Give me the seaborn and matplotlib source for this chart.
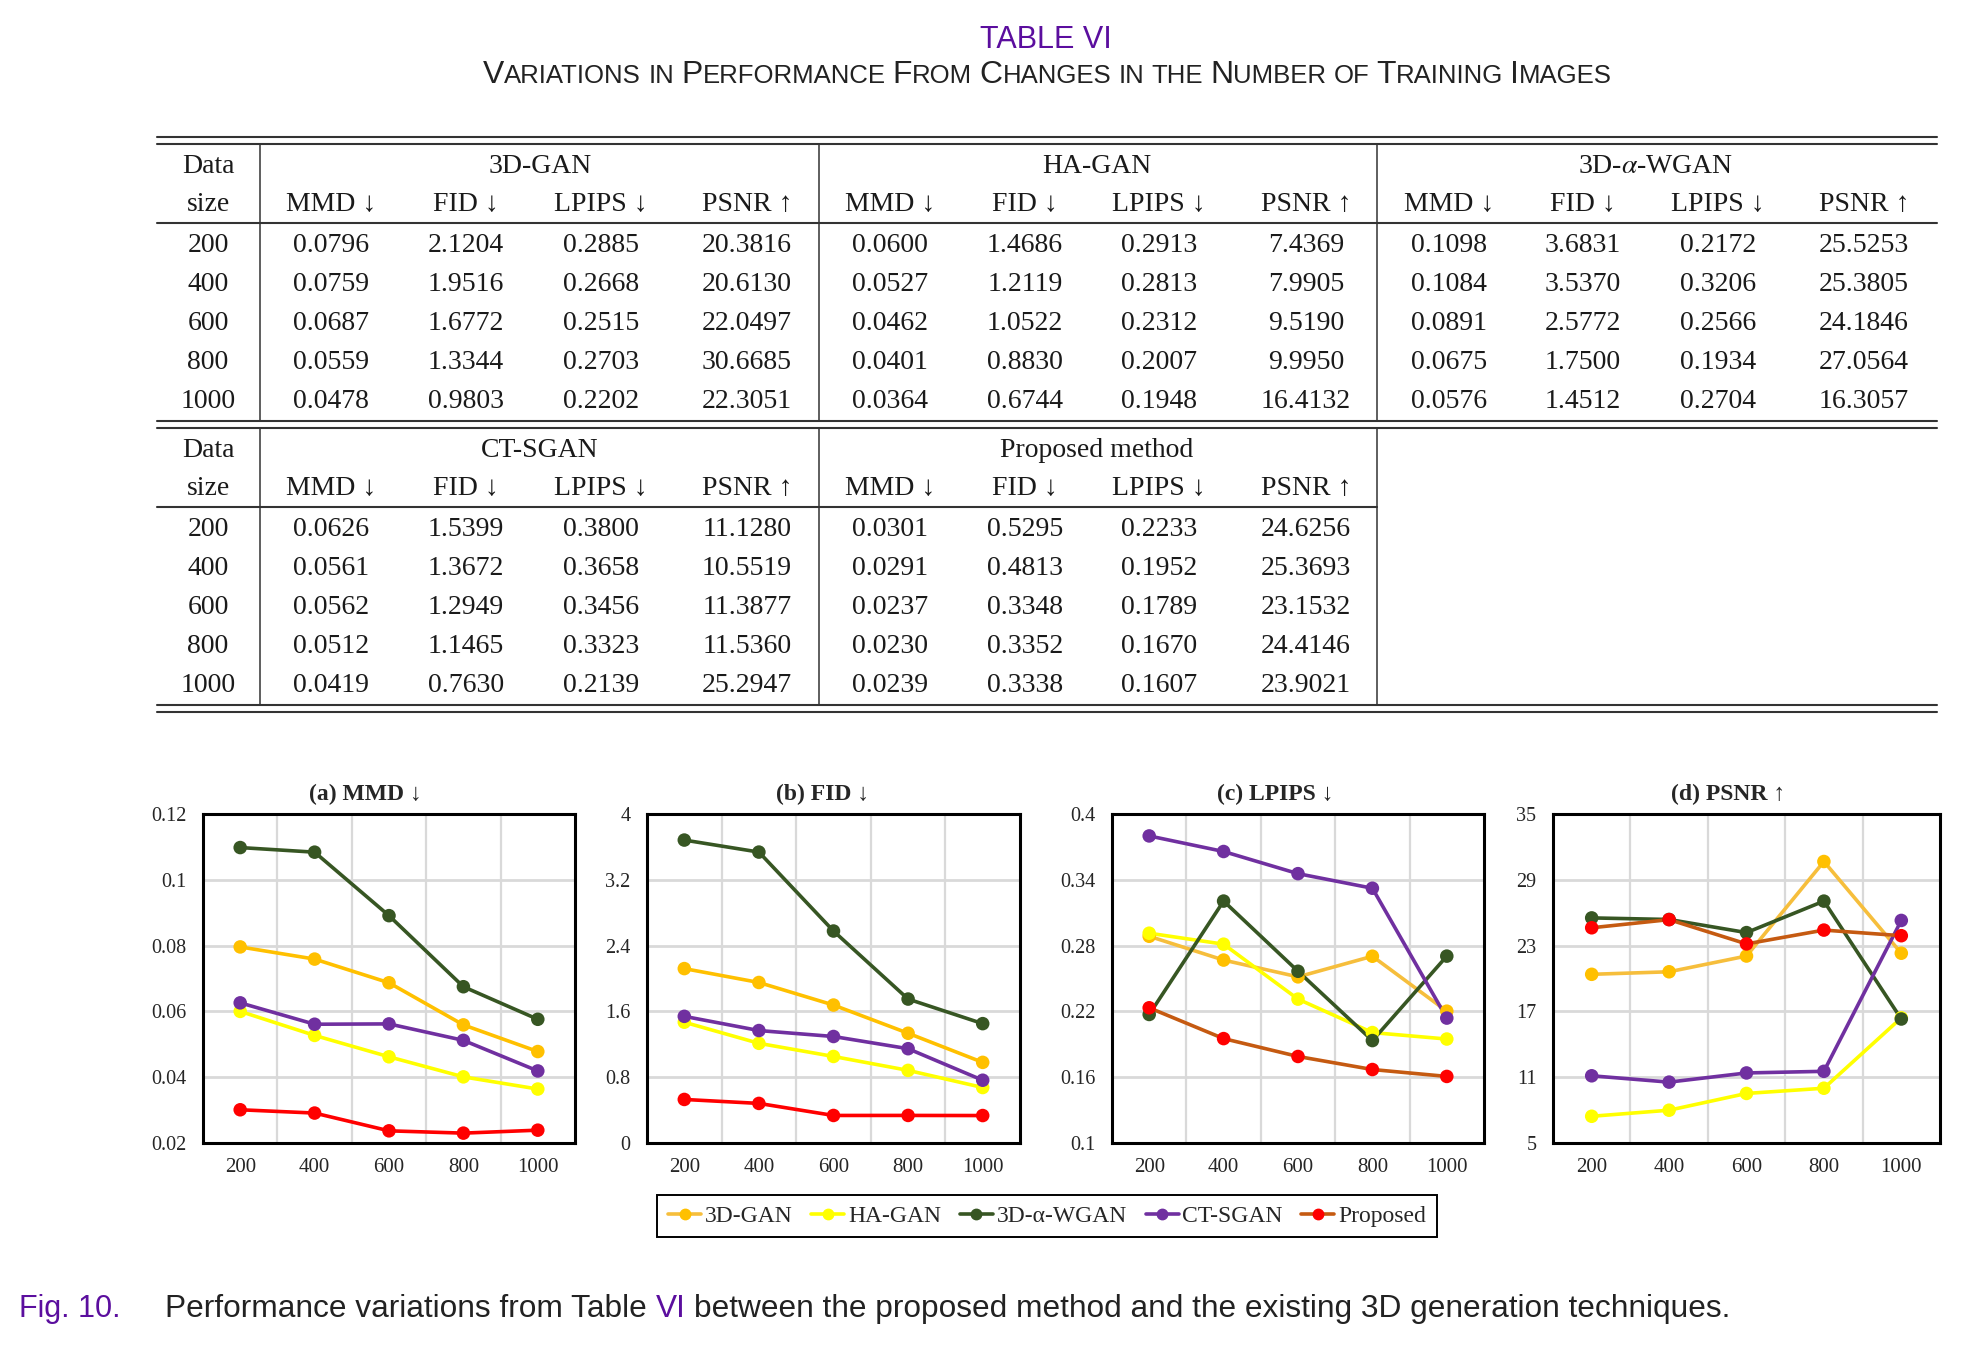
import matplotlib

matplotlib.use("Agg")

import matplotlib.pyplot as plt
import pandas as pd
import seaborn as sns
from matplotlib.lines import Line2D
from matplotlib.ticker import FixedLocator, FuncFormatter


SIZES = [200, 400, 600, 800, 1000]
METHODS = ["3D-GAN", "HA-GAN", "3D-α-WGAN", "CT-SGAN", "Proposed"]
METRICS = ["MMD", "FID", "LPIPS", "PSNR"]

GAN3D_MMD = [0.0796, 0.0759, 0.0687, 0.0559, 0.0478]
GAN3D_FID = [2.1204, 1.9516, 1.6772, 1.3344, 0.9803]
GAN3D_LPIPS = [0.2885, 0.2668, 0.2515, 0.2703, 0.2202]
GAN3D_PSNR = [20.3816, 20.6130, 22.0497, 30.6685, 22.3051]

HAGAN_MMD = [0.0600, 0.0527, 0.0462, 0.0401, 0.0364]
HAGAN_FID = [1.4686, 1.2119, 1.0522, 0.8830, 0.6744]
HAGAN_LPIPS = [0.2913, 0.2813, 0.2312, 0.2007, 0.1948]
HAGAN_PSNR = [7.4369, 7.9905, 9.5190, 9.9950, 16.4132]

WGAN_MMD = [0.1098, 0.1084, 0.0891, 0.0675, 0.0576]
WGAN_FID = [3.6831, 3.5370, 2.5772, 1.7500, 1.4512]
WGAN_LPIPS = [0.2172, 0.3206, 0.2566, 0.1934, 0.2704]
WGAN_PSNR = [25.5253, 25.3805, 24.1846, 27.0564, 16.3057]

CTSGAN_MMD = [0.0626, 0.0561, 0.0562, 0.0512, 0.0419]
CTSGAN_FID = [1.5399, 1.3672, 1.2949, 1.1465, 0.7630]
CTSGAN_LPIPS = [0.3800, 0.3658, 0.3456, 0.3323, 0.2139]
CTSGAN_PSNR = [11.1280, 10.5519, 11.3877, 11.5360, 25.2947]

PROP_MMD = [0.0301, 0.0291, 0.0237, 0.0230, 0.0239]
PROP_FID = [0.5295, 0.4813, 0.3348, 0.3352, 0.3338]
PROP_LPIPS = [0.2233, 0.1952, 0.1789, 0.1670, 0.1607]
PROP_PSNR = [24.6256, 25.3693, 23.1532, 24.4146, 23.9021]

MMD_TICKS = [0.02, 0.04, 0.06, 0.08, 0.1, 0.12]
FID_TICKS = [0, 0.8, 1.6, 2.4, 3.2, 4]
LPIPS_TICKS = [0.1, 0.16, 0.22, 0.28, 0.34, 0.4]
PSNR_TICKS = [5, 11, 17, 23, 29, 35]

PANEL_TITLES = ["(a) MMD ↓", "(b) FID ↓", "(c) LPIPS ↓", "(d) PSNR ↑"]
TABLE_HEADERS = ["MMD ↓", "FID ↓", "LPIPS ↓", "PSNR ↑"]
TABLE_GROUPS_TOP = ["3D-GAN", "HA-GAN", r"3D-$\alpha$-WGAN"]
TABLE_GROUPS_BOTTOM = ["CT-SGAN", "Proposed method"]

SERIES = {
    "3D-GAN": [GAN3D_MMD, GAN3D_FID, GAN3D_LPIPS, GAN3D_PSNR],
    "HA-GAN": [HAGAN_MMD, HAGAN_FID, HAGAN_LPIPS, HAGAN_PSNR],
    "3D-α-WGAN": [WGAN_MMD, WGAN_FID, WGAN_LPIPS, WGAN_PSNR],
    "CT-SGAN": [CTSGAN_MMD, CTSGAN_FID, CTSGAN_LPIPS, CTSGAN_PSNR],
    "Proposed": [PROP_MMD, PROP_FID, PROP_LPIPS, PROP_PSNR],
}

MARKER_COLORS = {
    "3D-GAN": "#FFC000",
    "HA-GAN": "#FFFF00",
    "3D-α-WGAN": "#375623",
    "CT-SGAN": "#7030A0",
    "Proposed": "#FF0000",
}
LINE_COLORS_AB = dict(MARKER_COLORS)
LINE_COLORS_CD = dict(MARKER_COLORS, **{"3D-GAN": "#F6BE3C", "Proposed": "#C55A11"})

PURPLE = "#5B0E9E"
SERIF = ["Liberation Serif", "DejaVu Serif"]
SANS = ["Liberation Sans", "DejaVu Sans"]

W, H = 1980, 1353


def fx(x):
    return x / W


def fy(y):
    return 1 - y / H


def build_frame():
    rows = []
    for method, lists in SERIES.items():
        for metric, values in zip(METRICS, lists):
            for size, value in zip(SIZES, values):
                rows.append({"method": method, "metric": metric, "size": size, "value": value})
    return pd.DataFrame(rows)


def hline(fig, x0, x1, y, lw=1.5, color="#333333"):
    fig.add_artist(Line2D([fx(x0), fx(x1)], [fy(y), fy(y)], transform=fig.transFigure, color=color, lw=lw))


def vline(fig, x, y0, y1, lw=1.1, color="#333333"):
    fig.add_artist(Line2D([fx(x), fx(x)], [fy(y0), fy(y1)], transform=fig.transFigure, color=color, lw=lw))


def ctext(fig, x, yc, s, size=20, **kw):
    # yc = visual centre of the glyphs, pixels from the top
    base = yc + 0.33 * size * 100 / 72
    fig.text(fx(x), fy(base), s, ha="center", va="baseline", fontsize=size, family=SERIF, color="#1a1a1a", **kw)


def draw_block(fig, y_top, groups, method_keys, full_rule):
    left, right = 157, 1937
    vlines = [259.5, 819, 1377]
    col_x = [[331, 466, 601, 747], [890, 1025, 1159, 1306], [1449, 1583, 1718, 1864]]
    group_x = [540, 1097, 1656]
    hline(fig, left, right, y_top)
    hline(fig, left, right, y_top + 7)
    ctext(fig, 208, y_top + 27, "Data")
    ctext(fig, 208, y_top + 65, "size")
    for gi, name in enumerate(groups):
        ctext(fig, group_x[gi], y_top + 27, name)
        for ci, head in enumerate(TABLE_HEADERS):
            ctext(fig, col_x[gi][ci], y_top + 65, head)
        for ri in range(len(SIZES)):
            for ci in range(4):
                val = SERIES[method_keys[gi]][ci][ri]
                ctext(fig, col_x[gi][ci], y_top + 106 + 39 * ri, f"{val:.4f}")
    for ri, size in enumerate(SIZES):
        ctext(fig, 208, y_top + 106 + 39 * ri, str(size))
    hline(fig, left, right if full_rule else vlines[2], y_top + 86)
    for x in vlines:
        vline(fig, x, y_top + 7, y_top + 284)


def place_pieces(fig, pieces, y_base, start=None, center=None, target=None):
    renderer = fig.canvas.get_renderer()
    texts = []
    for s, size, color, gap in pieces:
        t = fig.text(0, fy(y_base), s, fontsize=size, color=color, family=SANS, ha="left", va="baseline")
        texts.append((t, gap))

    def measure():
        return [t.get_window_extent(renderer).width for t, gap in texts]

    def gaps():
        return [gap * t.get_fontsize() * 100 / 72 for t, gap in texts]

    if target is not None:
        total = sum(measure()) + sum(gaps())
        scale = target / total
        for t, gap in texts:
            t.set_fontsize(t.get_fontsize() * scale)
    ws = measure()
    gs = gaps()
    total = sum(ws) + sum(gs)
    x = start if start is not None else center - total / 2
    for (t, gap), w, g in zip(texts, ws, gs):
        t.set_x(fx(x))
        x += w + g


def style_axis(ax, ticks):
    ax.set_xlim(100, 1100)
    ax.set_ylim(ticks[0], ticks[-1])
    ax.xaxis.set_major_locator(FixedLocator(SIZES))
    ax.xaxis.set_minor_locator(FixedLocator([300, 500, 700, 900]))
    ax.yaxis.set_major_locator(FixedLocator(ticks))
    ax.yaxis.set_major_formatter(FuncFormatter(lambda v, p: format(round(v, 4), "g")))
    ax.grid(False)
    ax.grid(True, axis="x", which="minor", color="#D9D9D9", lw=1.6)
    ax.grid(True, axis="y", which="major", color="#D9D9D9", lw=2.0)
    ax.set_axisbelow(True)
    ax.tick_params(axis="x", which="major", direction="in", length=6, width=1.2, color="black", pad=11, labelsize=15)
    ax.tick_params(axis="x", which="minor", length=0)
    ax.tick_params(axis="y", length=0, pad=12, labelsize=14.5)
    for lab in ax.get_xticklabels() + ax.get_yticklabels():
        lab.set_family(SERIF)
    for sp in ax.spines.values():
        sp.set_visible(True)
        sp.set_color("black")
        sp.set_linewidth(2.2)
    ax.set_xlabel("")
    ax.set_ylabel("")


def main():
    sns.set_theme(style="white")
    plt.rcParams["font.family"] = SERIF
    plt.rcParams["mathtext.fontset"] = "stix"

    fig = plt.figure(figsize=(W / 100, H / 100), dpi=100)
    fig.patch.set_facecolor("white")

    # table title, small-caps subtitle
    fig.text(fx(1046), fy(48), "TABLE VI", ha="center", va="baseline", fontsize=22, color=PURPLE, family=SANS)
    words = ["Variations", "in", "Performance", "From", "Changes", "in", "the", "Number", "of", "Training", "Images"]
    pieces = []
    for wi, word in enumerate(words):
        last = wi == len(words) - 1
        if word[0].isupper():
            pieces.append((word[0], 21, "#222222", 0))
            pieces.append((word[1:].upper(), 17, "#222222", 0 if last else 0.28))
        else:
            pieces.append((word.upper(), 17, "#222222", 0 if last else 0.28))
    place_pieces(fig, pieces, 83, start=483, target=1612 - 483)

    # table
    draw_block(fig, 137, TABLE_GROUPS_TOP, ["3D-GAN", "HA-GAN", "3D-α-WGAN"], True)
    draw_block(fig, 421, TABLE_GROUPS_BOTTOM, ["CT-SGAN", "Proposed"], False)
    hline(fig, 157, 1937, 705)
    hline(fig, 157, 1937, 712)

    # line charts
    df = build_frame()
    panel_x = [(203, 575), (647, 1020), (1112, 1484), (1553, 1940)]
    title_x = [365, 823, 1275, 1728]
    all_ticks = [MMD_TICKS, FID_TICKS, LPIPS_TICKS, PSNR_TICKS]
    for i, metric in enumerate(METRICS):
        x0, x1 = panel_x[i]
        ax = fig.add_axes([fx(x0), fy(1143), (x1 - x0) / W, (1143 - 814) / H])
        sub = df[df["metric"] == metric]
        line_pal = LINE_COLORS_AB if i < 2 else LINE_COLORS_CD
        sns.lineplot(data=sub, x="size", y="value", hue="method", hue_order=METHODS,
                     palette=line_pal, lw=2.6, legend=False, ax=ax, sort=True)
        sns.scatterplot(data=sub, x="size", y="value", hue="method", hue_order=METHODS,
                        palette=MARKER_COLORS, s=95, linewidth=0, legend=False, ax=ax, zorder=3)
        style_axis(ax, all_ticks[i])
        fig.text(fx(title_x[i]), fy(800), PANEL_TITLES[i], ha="center", va="baseline",
                 fontsize=17, fontweight="bold", family=SERIF)

    handles = []
    for m in METHODS:
        handles.append(Line2D([], [], color=LINE_COLORS_CD[m], lw=2.6, marker="o", markersize=7.5,
                              markerfacecolor=MARKER_COLORS[m], markeredgecolor=MARKER_COLORS[m]))
    leg = fig.legend(handles, METHODS, loc="center", bbox_to_anchor=(fx(1047), fy(1216)), ncol=5,
                     frameon=True, fancybox=False, edgecolor="black", framealpha=1,
                     prop={"family": SERIF, "size": 17}, handlelength=1.4, handletextpad=0.15,
                     columnspacing=0.8, borderpad=0.45)
    leg.get_frame().set_linewidth(1.4)

    # caption
    fig.text(fx(19), fy(1317), "Fig. 10.", ha="left", va="baseline", fontsize=22, color=PURPLE, family=SANS)
    cap = [
        ("Performance variations from Table", 20, "#222222", 0.28),
        ("VI", 20, PURPLE, 0.28),
        ("between the proposed method and the existing 3D generation techniques.", 20, "#222222", 0),
    ]
    place_pieces(fig, cap, 1317, start=165, target=1725 - 165)

    fig.savefig("out.png", dpi=100, facecolor="white")
    plt.close(fig)


if __name__ == "__main__":
    main()
